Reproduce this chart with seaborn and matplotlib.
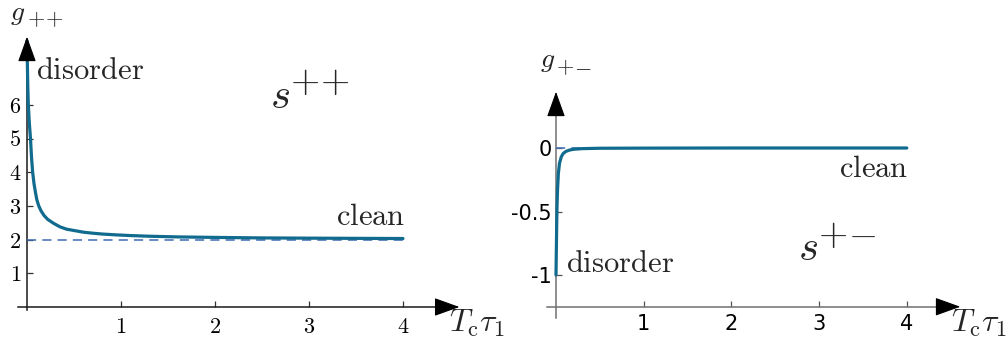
import matplotlib
matplotlib.use("Agg")
import matplotlib.pyplot as plt
import seaborn as sns

# ---- data -------------------------------------------------------------
# s++ pairing: coupling g_{++} versus T_c*tau_1
x_pp = [0.0, 0.004, 0.008, 0.014, 0.025, 0.037, 0.048, 0.06, 0.075, 0.09,
        0.105, 0.125, 0.15, 0.18, 0.22, 0.285, 0.35, 0.42, 0.5, 0.6,
        0.7, 0.8, 0.95, 1.1, 1.3, 1.6, 2.0, 2.5, 3.0, 3.5, 4.0]
g_pp = [7.9, 7.2, 6.6, 6.0, 5.45, 5.0, 4.45, 4.0, 3.65, 3.4,
        3.18, 3.0, 2.85, 2.72, 2.6, 2.48, 2.38, 2.31, 2.27, 2.22,
        2.19, 2.165, 2.14, 2.12, 2.1, 2.08, 2.065, 2.05, 2.043, 2.037, 2.032]
# s+- pairing: coupling g_{+-} versus T_c*tau_1
x_pm = [0.0, 0.002, 0.004, 0.006, 0.008, 0.012, 0.018, 0.027, 0.04, 0.06,
        0.08, 0.11, 0.15, 0.2, 0.3, 0.5, 1.0, 2.0, 3.0, 4.0]
g_pm = [-1.0, -0.9, -0.8, -0.7, -0.6, -0.45, -0.32, -0.2, -0.12, -0.07,
        -0.045, -0.028, -0.017, -0.01, -0.005, -0.002, -0.001, 0.0, 0.0, 0.0]
clean_pp = 2.0   # clean limit of g_{++}
clean_pm = 0.0   # clean limit of g_{+-}
x_clean = [0.0, 4.0]

xticks = [1, 2, 3, 4]
xtick_labels = ["1", "2", "3", "4"]
yticks_pp = [1, 2, 3, 4, 5, 6]
ytick_labels_pp = ["1", "2", "3", "4", "5", "6"]
yticks_pm = [0.0, -0.5, -1.0]
ytick_labels_pm = ["0", "-0.5", "-1"]

# ---- style ------------------------------------------------------------
sns.set_theme(style="white")
plt.rcParams["font.family"] = ["DejaVu Sans"]
plt.rcParams["mathtext.fontset"] = "cm"

CURVE = "#116b8e"
DASH = "#3d6bb3"
W, H = 1008, 338
fig = plt.figure(figsize=(W / 100, H / 100), dpi=100)


def axes_at(x0px, y0px, xscale, yscale, xlim, ylim):
    """Place an axes so that data (0, 0) lands on pixel (x0px, y0px)."""
    left = x0px + xlim[0] * xscale
    width = (xlim[1] - xlim[0]) * xscale
    top = y0px - ylim[1] * yscale
    height = (ylim[1] - ylim[0]) * yscale
    ax = fig.add_axes([left / W, 1 - (top + height) / H, width / W, height / H])
    ax.set_xlim(*xlim)
    ax.set_ylim(*ylim)
    ax.patch.set_alpha(0)
    return ax


def arrow_head(ax, tail, tip, color):
    ax.annotate("", xy=tip, xytext=tail, xycoords="data",
                arrowprops=dict(arrowstyle="-|>,head_length=1.0,head_width=0.36",
                                mutation_scale=16, color=color, lw=0.8,
                                shrinkA=0, shrinkB=0),
                annotation_clip=False, zorder=6)


def style_axes(ax, xorig, yorig, xb, yb, color, lw):
    for s in ("top", "right"):
        ax.spines[s].set_visible(False)
    ax.spines["left"].set_position(("data", xorig))
    ax.spines["bottom"].set_position(("data", yorig))
    ax.spines["left"].set_bounds(*yb)
    ax.spines["bottom"].set_bounds(*xb)
    for s in ("left", "bottom"):
        ax.spines[s].set_color(color)
        ax.spines[s].set_linewidth(lw)
        ax.spines[s].set_zorder(2)
    ax.grid(False)


def fig_text(xpx, ypx, s, **kw):
    fig.text(xpx / W, 1 - ypx / H, s, **kw)


# ---- left panel: s++ ----------------------------------------------------
axL = axes_at(27, 307, 94.0, 33.7, (-0.1, 4.75), (-0.12, 8.15))
style_axes(axL, 0, 0, (-0.1, 4.5), (-0.1, 7.6), "#1a1a1a", 1.1)
sns.lineplot(x=x_clean, y=[clean_pp, clean_pp], ax=axL, color=DASH,
             linewidth=1.1, linestyle=(0, (6, 4)), zorder=2.2)
sns.lineplot(x=x_pp, y=g_pp, ax=axL, color=CURVE, linewidth=2.3,
             estimator=None, sort=False, zorder=3)
arrow_head(axL, (0, 7.3), (0, 8.02), "black")
arrow_head(axL, (4.35, 0), (4.6, 0), "black")
axL.set_xticks(xticks)
axL.set_xticklabels([f"${t}$" for t in xtick_labels])
axL.set_yticks(yticks_pp)
axL.set_yticklabels([f"${t}$" for t in ytick_labels_pp])
axL.tick_params(axis="both", direction="in", length=4.5, width=0.9,
                color="#333333", labelsize=16, labelcolor="black")
axL.tick_params(axis="x", pad=7)
axL.tick_params(axis="y", pad=4)
axL.tick_params(left=True, bottom=True)
axL.set_xlabel("")
axL.set_ylabel("")

fig_text(10, 20, r"$g$", fontsize=20, ha="left", va="baseline")
fig_text(27, 25, r"$+$", fontsize=16, ha="left", va="baseline")
fig_text(45, 25, r"$+$", fontsize=16, ha="left", va="baseline")
fig_text(36, 79, r"$\mathrm{disorder}$", fontsize=22, ha="left", va="baseline")
fig_text(336, 225, r"$\mathrm{clean}$", fontsize=22, ha="left", va="baseline")
fig_text(270, 108, r"$s$", fontsize=31, ha="left", va="baseline")
fig_text(290, 92, r"$+$", fontsize=27, ha="left", va="baseline")
fig_text(320, 92, r"$+$", fontsize=27, ha="left", va="baseline")
fig_text(449, 332, r"$T_{\mathrm{c}}\tau_1$", fontsize=23, ha="left", va="baseline")

# ---- right panel: s+- ---------------------------------------------------
axR = axes_at(556, 148, 87.7, 127.0, (-0.15, 4.75), (-1.36, 0.5))
style_axes(axR, 0, -1.25, (-0.1, 4.45), (-1.34, 0.3), "#707070", 1.1)
sns.lineplot(x=x_clean, y=[clean_pm, clean_pm], ax=axR, color=DASH,
             linewidth=1.1, linestyle=(0, (6, 4)), zorder=2.2)
sns.lineplot(x=x_pm, y=g_pm, ax=axR, color=CURVE, linewidth=2.3,
             estimator=None, sort=False, zorder=3)
arrow_head(axR, (0, 0.26), (0, 0.443), "black")
arrow_head(axR, (4.35, -1.25), (4.61, -1.25), "black")
axR.set_xticks(xticks)
axR.set_xticklabels(xtick_labels)
axR.set_yticks(yticks_pm)
axR.set_yticklabels(ytick_labels_pm)
axR.tick_params(axis="both", direction="in", length=4.5, width=0.9,
                color="#555555", labelsize=15, labelcolor="black")
axR.tick_params(axis="x", pad=5)
axR.tick_params(axis="y", pad=3)
axR.tick_params(left=True, bottom=True)
axR.set_xlabel("")
axR.set_ylabel("")

fig_text(540, 67, r"$g$", fontsize=20, ha="left", va="baseline")
fig_text(556, 73, r"$+$", fontsize=16, ha="left", va="baseline")
fig_text(574, 73, r"$-$", fontsize=16, ha="left", va="baseline")
fig_text(908, 177, r"$\mathrm{clean}$", fontsize=22, ha="right", va="baseline")
fig_text(566, 272, r"$\mathrm{disorder}$", fontsize=22, ha="left", va="baseline")
fig_text(798, 260, r"$s$", fontsize=31, ha="left", va="baseline")
fig_text(818, 245, r"$+$", fontsize=27, ha="left", va="baseline")
fig_text(848, 245, r"$-$", fontsize=27, ha="left", va="baseline")
fig_text(951, 332, r"$T_{\mathrm{c}}\tau_1$", fontsize=23, ha="left", va="baseline")

fig.savefig("out.png", dpi=100)
